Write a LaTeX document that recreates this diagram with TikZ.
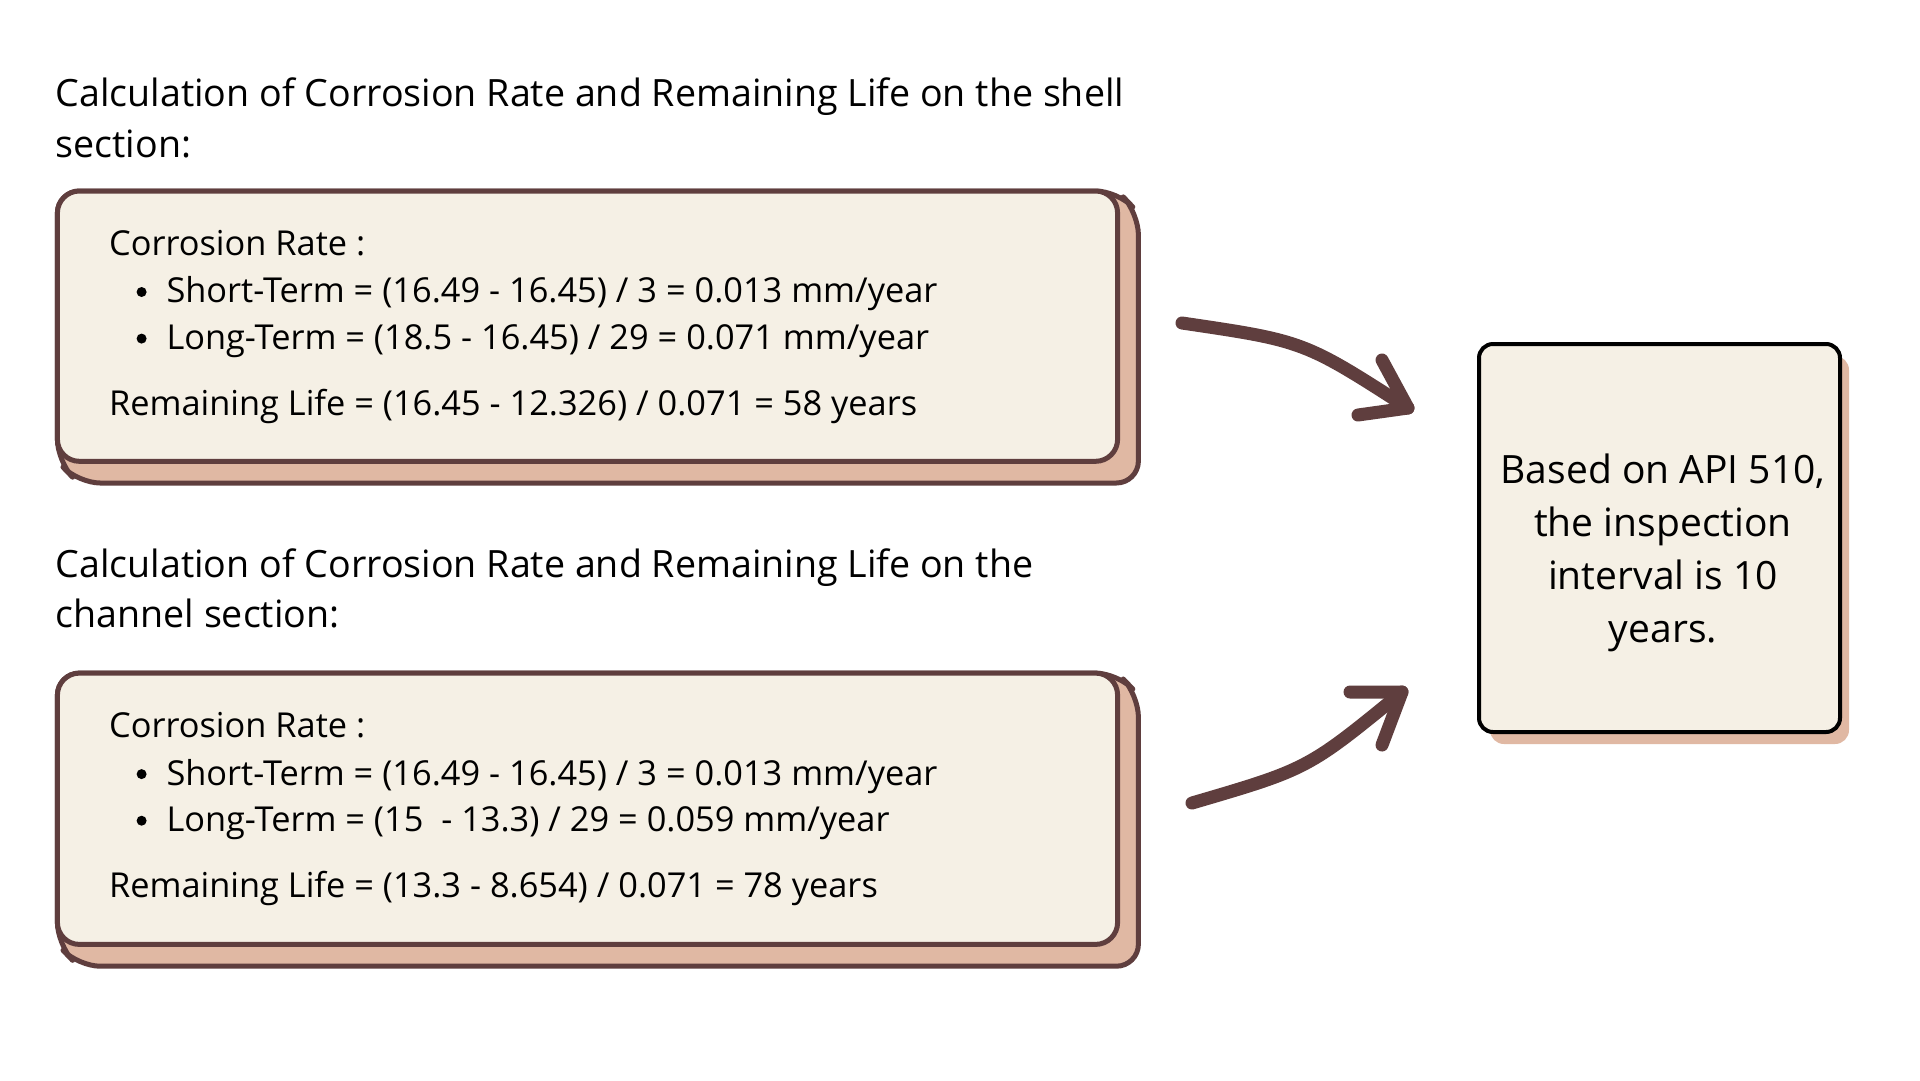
\documentclass[tikz,border=0pt]{standalone}
\usepackage{fontspec}
\setmainfont{Open Sans}
\definecolor{brn}{HTML}{5F3E3E}
\definecolor{crm}{HTML}{F5F0E5}
\definecolor{tanc}{HTML}{E0B8A3}
\begin{document}
\begin{tikzpicture}[x=1pt,y=-1pt,
  txt/.style={inner sep=0pt,anchor=base west,font=\fontsize{34.35}{40}\selectfont},
  ttl/.style={inner sep=0pt,anchor=base west,font=\fontsize{37.6}{44}\selectfont},
  res/.style={inner sep=0pt,anchor=base,font=\fontsize{39}{46}\selectfont},
  dot/.style={circle,fill=black,inner sep=0pt,minimum size=10pt},
  frontbox/.style={fill=crm,draw=brn,line width=5pt,rounded corners=22pt},
  backbox/.style={fill=tanc,draw=brn,line width=5pt,rounded corners=22pt,line join=round},
  arr/.style={draw=brn,line width=13pt,line cap=round,line join=round}]
\useasboundingbox (0,0) rectangle (1920,1080);
\fill[white] (0,0) rectangle (1920,1080);

% titles
\node[ttl] (t1a) at (55.4,106.9) {Calculation of Corrosion Rate and Remaining Life on the shell};
\node[ttl] (t1b) at (55.4,157.4) {section:};
\node[ttl] (t2a) at (55.4,577) {Calculation of Corrosion Rate and Remaining Life on the};
\node[ttl] (t2b) at (55.4,627.6) {channel section:};

% box 1
\path[backbox] (57.4,191) -- (1117.6,191) -- (1138.4,212.8) -- (1138.4,483) -- (78.2,483) -- (57.4,461.3) -- cycle;
\path[frontbox] (57.4,191) rectangle (1117.6,461.3);
\node[txt] (b1a) at (108.9,255.4) {Corrosion Rate :};
\node[dot] (b1d1) at (141.6,292) {};
\node[txt] (b1b) at (166.3,302.9) {Short-Term = (16.49 - 16.45) / 3 = 0.013 mm/year};
\node[dot] (b1d2) at (141.6,338.6) {};
\node[txt] (b1c) at (166.3,349.4) {Long-Term = (18.5 - 16.45) / 29 = 0.071 mm/year};
\node[txt] (b1e) at (108.9,415.8) {Remaining Life = (16.45 - 12.326) / 0.071 = 58 years};

% box 2
\path[backbox] (57.4,673.1) -- (1117.6,673.1) -- (1138.4,694.9) -- (1138.4,966.2) -- (78.2,966.2) -- (57.4,944.4) -- cycle;
\path[frontbox] (57.4,673.1) rectangle (1117.6,944.4);
\node[txt] (b2a) at (108.9,737.5) {Corrosion Rate :};
\node[dot] (b2d1) at (141.6,774.1) {};
\node[txt] (b2b) at (166.3,785) {Short-Term = (16.49 - 16.45) / 3 = 0.013 mm/year};
\node[dot] (b2d2) at (141.6,820.7) {};
\node[txt] (b2c) at (166.3,831.5) {Long-Term = (15~ - 13.3) / 29 = 0.059 mm/year};
\node[txt] (b2e) at (108.9,897.9) {Remaining Life = (13.3 - 8.654) / 0.071 = 78 years};

% result box
\fill[tanc,rounded corners=14pt] (1490,356) rectangle (1849,744);
\path[fill=crm,draw=black,line width=4pt,rounded corners=14pt] (1479,344) rectangle (1840,732);
\node[res] (r1) at (1663,483) {Based on API 510,};
\node[res] (r2) at (1663,536) {the inspection};
\node[res] (r3) at (1663,589) {interval is 10};
\node[res] (r4) at (1663,642) {years.};

% arrows
\coordinate (a1s) at (1182,323);
\coordinate (a1c) at (1304,341);
\coordinate (a1t) at (1408,408);
\coordinate (h1a) at (1382,360);
\coordinate (h1b) at (1358,415);
\draw[arr] (a1s) .. controls (a1c) .. (a1t);
\draw[arr] (h1a) -- (a1t) -- (h1b);

\coordinate (a2s) at (1192,803);
\coordinate (a2c) at (1308,769);
\coordinate (a2t) at (1402,692);
\coordinate (h2a) at (1350,692);
\coordinate (h2b) at (1382,745);
\draw[arr] (a2s) .. controls (a2c) .. (a2t);
\draw[arr] (h2a) -- (a2t) -- (h2b);
\end{tikzpicture}
\end{document}
